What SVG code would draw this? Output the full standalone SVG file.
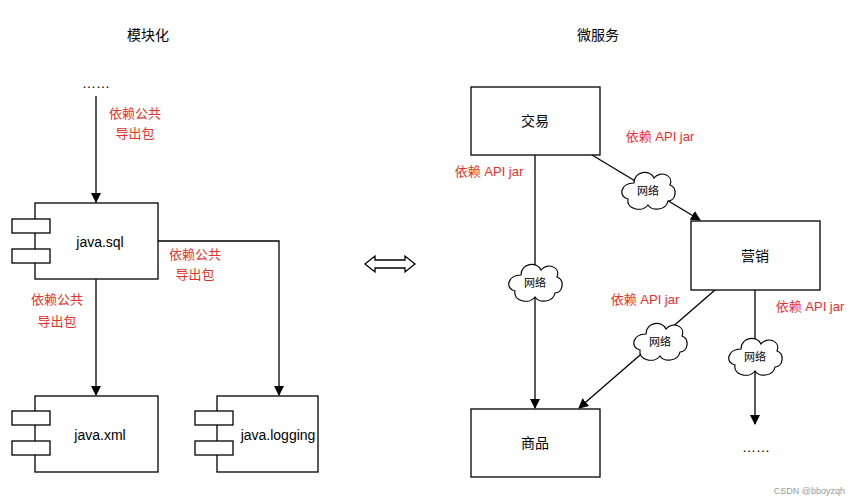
<svg xmlns="http://www.w3.org/2000/svg" width="852" height="500" viewBox="0 0 852 500">
<defs>
<marker id="ah" markerWidth="10" markerHeight="10" refX="9" refY="5" orient="auto" markerUnits="userSpaceOnUse"><path d="M0,0 L10,5 L0,10 z" fill="#000"/></marker>
<path id="cloud" d="M-14,-8 C-14,-20 2,-22 6,-13 C12,-21 26,-16 22,-6 C30,-3 28,10 20,10 C18,20 4,20 0,14 C-6,22 -22,18 -20,8 C-30,6 -28,-8 -14,-8 z" fill="#fff" stroke="#000" stroke-width="1.2"/>
</defs>
<style>
.b{fill:#fff;stroke:#000;stroke-width:1.3}
.t{font-family:"Liberation Sans","Noto Sans CJK SC",sans-serif;font-size:14px;text-anchor:middle;fill:#000}
.r{font-family:"Liberation Sans","Noto Sans CJK SC",sans-serif;font-size:13px;text-anchor:middle;fill:#e8302a}
.s{font-family:"Liberation Sans","Noto Sans CJK SC",sans-serif;font-size:11px;text-anchor:middle;fill:#000}
.l{fill:none;stroke:#000;stroke-width:1.3}
</style>
<rect width="852" height="500" fill="#fff"/>
<text class="t" x="148" y="40" font-size="15">模块化</text>
<text class="t" x="598" y="40" font-size="15">微服务</text>
<text class="t" x="96" y="88">……</text>
<g id="connectors">
<line class="l" x1="96" y1="96" x2="96" y2="202" marker-end="url(#ah)"/>
<line class="l" x1="96" y1="279" x2="96" y2="395" marker-end="url(#ah)"/>
<polyline class="l" points="158,241 279,241 279,395" marker-end="url(#ah)"/>
<line class="l" x1="535" y1="155" x2="535" y2="408" marker-end="url(#ah)"/>
<line class="l" x1="592" y1="155" x2="700" y2="220" marker-end="url(#ah)"/>
<line class="l" x1="715" y1="290" x2="579" y2="408" marker-end="url(#ah)"/>
<line class="l" x1="755" y1="290" x2="755" y2="424" marker-end="url(#ah)"/>
<path class="l" d="M365,264 L375,256 L375,260 L405,260 L405,256 L415,264 L405,272 L405,268 L375,268 L375,272 z"/>
</g>
<text class="r" x="135" y="118">依赖公共</text><text class="r" x="135" y="138">导出包</text>
<text class="r" x="195" y="259">依赖公共</text><text class="r" x="195" y="279">导出包</text>
<text class="r" x="57" y="304">依赖公共</text><text class="r" x="57" y="326">导出包</text>
<g id="java-sql"><rect class="b" x="35" y="203" width="123" height="76"/><rect class="b" x="12" y="219" width="38" height="14"/><rect class="b" x="12" y="249" width="38" height="14"/><text class="t" x="100" y="247">java.sql</text></g>
<g id="java-xml"><rect class="b" x="35" y="396" width="123" height="76"/><rect class="b" x="12" y="411" width="38" height="14"/><rect class="b" x="12" y="441" width="38" height="14"/><text class="t" x="100" y="440">java.xml</text></g>
<g id="java-logging"><rect class="b" x="217" y="396" width="101" height="76"/><rect class="b" x="195" y="411" width="38" height="14"/><rect class="b" x="195" y="441" width="38" height="14"/><text class="t" x="278" y="440">java.logging</text></g>
<g id="jiaoyi"><rect class="b" x="471" y="87" width="129" height="68"/><text class="t" x="535" y="126" font-size="15">交易</text></g>
<g id="yingxiao"><rect class="b" x="691" y="221" width="129" height="69"/><text class="t" x="755" y="261" font-size="15">营销</text></g>
<g id="shangpin"><rect class="b" x="471" y="409" width="129" height="68"/><text class="t" x="535" y="448" font-size="15">商品</text></g>
<g id="cloud1"><use href="#cloud" x="535" y="283"/><text class="s" x="535" y="287">网络</text></g>
<g id="cloud2"><use href="#cloud" x="648" y="191"/><text class="s" x="648" y="195">网络</text></g>
<g id="cloud3"><use href="#cloud" x="660" y="342"/><text class="s" x="660" y="346">网络</text></g>
<g id="cloud4"><use href="#cloud" x="755" y="357"/><text class="s" x="755" y="361">网络</text></g>
<text class="r" x="489" y="176">依赖 API jar</text>
<text class="r" x="660" y="141">依赖 API jar</text>
<text class="r" x="645" y="304">依赖 API jar</text>
<text class="r" x="810" y="311">依赖 API jar</text>
<text class="t" x="756" y="452">……</text>
<text x="845" y="494" font-family="Liberation Sans,sans-serif" font-size="9" fill="#999" text-anchor="end">CSDN @bboyzqh</text>
</svg>
